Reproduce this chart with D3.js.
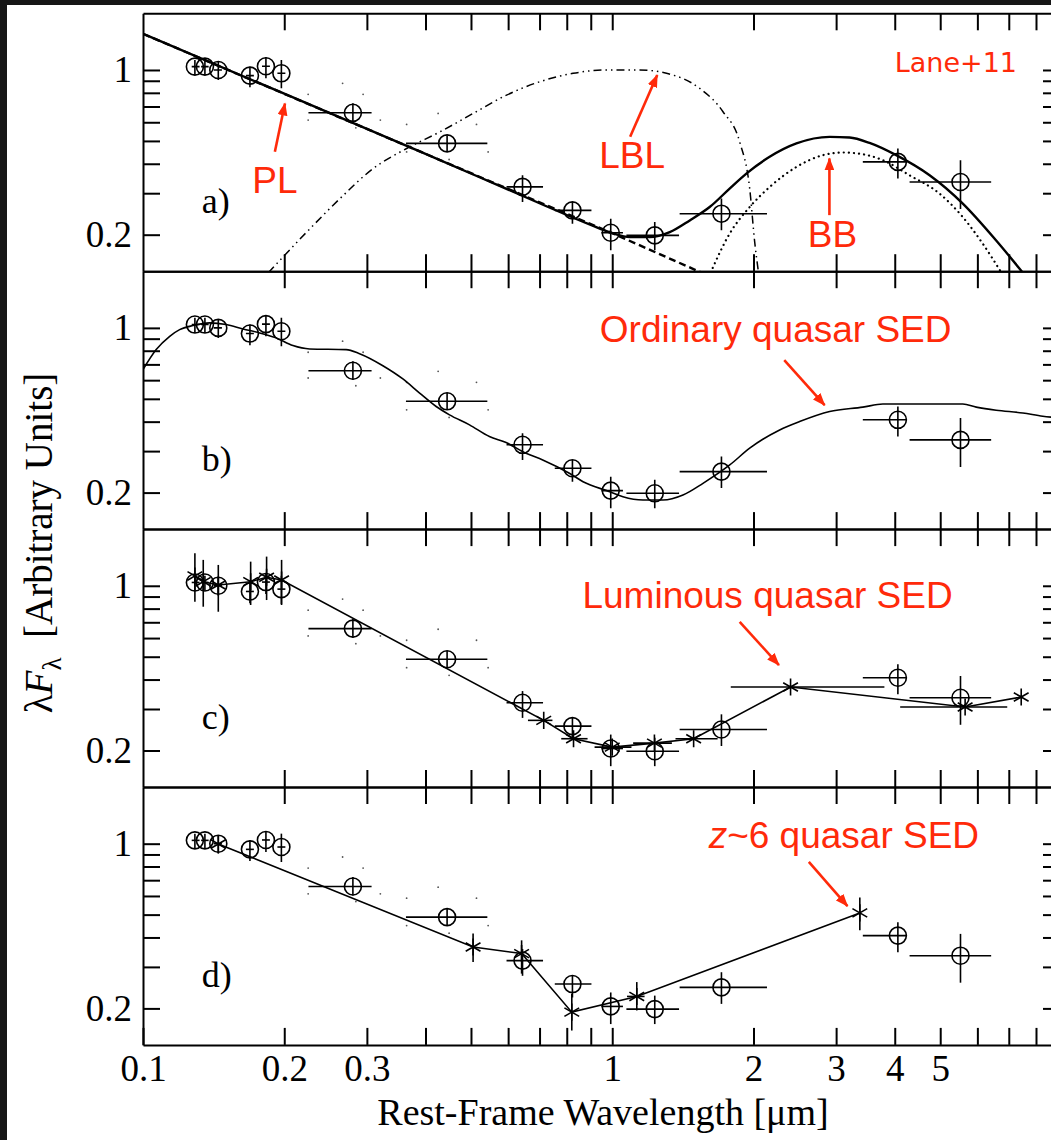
<!DOCTYPE html>
<html>
<head>
<meta charset="utf-8">
<script src="https://cdn.jsdelivr.net/npm/d3@7"></script>
<style>
  body { margin: 0; background: #161616; }
  svg { display: block; }
</style>
</head>
<body>
<svg id="chart" width="1051" height="1140"></svg>
<script>
// ---- data: observed photometry (rest-frame um, lambda F_lambda) ----
const obsLam    = [0.129, 0.1355, 0.1447, 0.169, 0.1828, 0.1972, 0.2801, 0.4447, 0.6439, 0.8226, 0.9927, 1.232, 1.709, 4.062, 5.523];
const obsFlux   = [1.033, 1.033, 1.0, 0.946, 1.037, 0.968, 0.658, 0.488, 0.319, 0.2537, 0.2039, 0.1986, 0.2456, 0.4073, 0.3347];
const obsLamLo  = [0.127, 0.133, 0.1416, 0.1657, 0.1793, 0.1934, 0.2252, 0.3634, 0.5953, 0.7543, 0.9484, 1.072, 1.392, 3.42, 4.302];
const obsLamHi  = [0.132, 0.138, 0.1473, 0.1723, 0.1864, 0.2011, 0.307, 0.5418, 0.7121, 0.903, 1.054, 1.388, 2.137, 4.233, 6.42];
const obsFluxLo = [0.952, 0.952, 0.907, 0.844, 0.922, 0.836, 0.603, 0.449, 0.275, 0.2225, 0.1716, 0.1716, 0.209, 0.3461, 0.2571];
const obsFluxHi = [1.103, 1.103, 1.085, 1.033, 1.132, 1.103, 0.722, 0.529, 0.3575, 0.2752, 0.2337, 0.2266, 0.2848, 0.4641, 0.4142];
// faint dotted range marks around the two broad points
const dotLam  = [0.2249, 0.2663, 0.2945, 0.3205, 0.2249, 0.2842, 0.3646, 0.4256, 0.5137, 0.5439, 0.3646, 0.4491];
const dotFlux = [0.788, 0.878, 0.788, 0.6128, 0.6128, 0.568, 0.5874, 0.654, 0.5874, 0.4492, 0.4492, 0.4169];

// ---- panel a: PL + BB fit, LBL ----
const plLam   = [0.1, 1.0, 1.55];
const plFlux  = [1.424, 0.203, 0.138];
const totLam  = [0.1, 0.2, 0.4, 0.7, 0.9, 1.0, 1.09, 1.202, 1.326, 1.463, 1.613, 1.779, 1.931, 2.165, 2.469, 2.906, 3.205, 3.535, 4.029, 4.746, 5.586, 6.58, 7.5];
const totFlux = [1.424, 0.793, 0.441, 0.272, 0.22, 0.203, 0.1953, 0.1953, 0.205, 0.230, 0.262, 0.3138, 0.3635, 0.428, 0.4877, 0.520, 0.517, 0.4904, 0.435, 0.3574, 0.271, 0.189, 0.138];
const bbLam   = [1.62, 1.779, 1.963, 2.165, 2.469, 2.812, 3.102, 3.421, 3.774, 4.302, 4.985, 5.586, 6.163, 6.75];
const bbFlux  = [0.138, 0.202, 0.262, 0.3187, 0.3878, 0.435, 0.4466, 0.439, 0.414, 0.3574, 0.2987, 0.2375, 0.183, 0.138];
const lblLam  = [0.185, 0.2232, 0.2628, 0.3094, 0.3646, 0.4293, 0.5052, 0.5953, 0.7008, 0.825, 0.9719, 1.144, 1.305, 1.536, 1.722, 1.869, 1.963, 2.012, 2.05];
const lblFlux = [0.138, 0.205, 0.2845, 0.3818, 0.4644, 0.5463, 0.654, 0.7826, 0.8917, 0.968, 1.0, 1.0, 0.968, 0.836, 0.665, 0.495, 0.314, 0.186, 0.138];

// ---- panel b: ordinary quasar SED ----
const ordLam  = [0.1, 0.1067, 0.114, 0.1197, 0.1278, 0.1387, 0.1504, 0.1633, 0.1773, 0.1922, 0.2087, 0.2265, 0.271, 0.2894, 0.3245, 0.358, 0.3886, 0.4215, 0.45, 0.4964, 0.5473, 0.594, 0.655, 0.711, 0.8103, 0.8666, 0.9878, 1.054, 1.163, 1.283, 1.415, 1.561, 1.78, 1.963, 2.274, 2.508, 2.906, 3.42, 3.774, 5.586, 5.966, 6.58, 7.5, 8.27, 9.0];
const ordFlux = [0.665, 0.809, 0.921, 0.983, 1.023, 1.050, 1.033, 0.990, 0.952, 0.907, 0.841, 0.814, 0.809, 0.777, 0.691, 0.607, 0.529, 0.4638, 0.4276, 0.3878, 0.3457, 0.326, 0.2938, 0.2752, 0.2415, 0.2225, 0.2017, 0.192, 0.186, 0.186, 0.1953, 0.219, 0.262, 0.3087, 0.369, 0.4005, 0.4417, 0.461, 0.475, 0.475, 0.461, 0.447, 0.4355, 0.4214, 0.415];

// ---- panel c: luminous quasar SED (stars) ----
const lumLam    = [0.129, 0.1344, 0.1447, 0.1696, 0.1834, 0.1974, 0.7145, 0.827, 1.0, 1.23, 1.491, 2.399, 5.65, 7.44];
const lumFlux   = [1.101, 1.041, 1.008, 1.041, 1.087, 1.058, 0.2685, 0.2244, 0.2067, 0.215, 0.2244, 0.372, 0.3058, 0.3373];
const lumFluxLo = [0.856, 0.815, 0.776, 0.829, 0.87, 0.829, null, null, null, null, null, null, null, null];
const lumFluxHi = [1.375, 1.288, 1.226, 1.266, 1.33, 1.288, null, null, null, null, null, null, null, null];
const lumLamLo  = [null, null, null, null, null, null, 0.6613, 0.7786, 0.917, 1.108, 1.364, 1.789, 4.108, null];
const lumLamHi  = [null, null, null, null, null, null, 0.7457, 0.886, 1.099, 1.34, 1.677, 3.802, 6.947, null];

// ---- panel d: z~6 quasar SED (stars) ----
const z6Lam    = [0.1447, 0.5052, 0.641, 0.82, 1.128, 3.37];
const z6Flux   = [0.997, 0.3644, 0.3417, 0.1928, 0.2248, 0.5085];
const z6FluxLo = [null, 0.3147, 0.2809, 0.1611, 0.196, 0.4293];
const z6FluxHi = [null, 0.4156, 0.3889, 0.2309, 0.2587, 0.5913];
const z6LamLo  = [null, null, null, null, 1.075, null];
const z6LamHi  = [null, null, null, null, 1.172, null];

// ---- axes ----
const xDomain = [0.1, 9];
const yDomain = [0.14, 1.74];
const xTicks  = [0.1, 0.2, 0.3, 0.4, 0.5, 0.6, 0.7, 0.8, 0.9, 1, 2, 3, 4, 5, 6, 7, 8];
const xLabels = [0.1, 0.2, 0.3, 1, 2, 3, 4, 5];
const yTicks  = [0.2, 0.3, 0.4, 0.5, 0.6, 0.7, 0.8, 0.9, 1];
const yLabels = [0.2, 1];

// ---- layout ----
const svg = d3.select("#chart");
const W = 1051, H = 1140;
const left = 143, right = 1060, top0 = 13.3, panelH = 257.9, tick = 17;
const serif = "'Liberation Serif', 'Times New Roman', serif";
const sans = "'Liberation Sans', Arial, sans-serif";
const red = "#ff2a0a";

svg.append("rect").attr("width", W).attr("height", H).attr("fill", "#161616");
svg.append("rect").attr("x", 7).attr("y", 5).attr("width", W - 7).attr("height", H - 5).attr("fill", "#fff");

const defs = svg.append("defs");
defs.append("marker").attr("id", "arr")
  .attr("viewBox", "0 -5 13 10").attr("refX", 12).attr("refY", 0)
  .attr("markerWidth", 13).attr("markerHeight", 10)
  .attr("markerUnits", "userSpaceOnUse").attr("orient", "auto")
  .append("path").attr("d", "M0,-5L13,0L0,5Z").attr("fill", red);

const x = d3.scaleLog().domain(xDomain).range([left, right]);
const fmt = d3.format("~g");

const zip = (a, b) => a.map((v, i) => [v, b[i]]);

function makePanel(i) {
  const top = top0 + i * panelH;
  const y = d3.scaleLog().domain(yDomain).range([top + panelH, top]);
  defs.append("clipPath").attr("id", "clip" + i)
    .append("rect").attr("x", left).attr("y", top).attr("width", right - left).attr("height", panelH);
  const g = svg.append("g").attr("clip-path", `url(#clip${i})`);
  return { i, top, y, g };
}

function line(p, lam, flux, opts = {}) {
  const gen = d3.line().x(d => x(d[0])).y(d => p.y(d[1])).curve(opts.curve || d3.curveLinear);
  p.g.append("path").datum(zip(lam, flux))
    .attr("fill", "none").attr("stroke", "#000")
    .attr("stroke-width", opts.width || 1.6)
    .attr("stroke-dasharray", opts.dash || null)
    .attr("stroke-linecap", opts.cap || "butt")
    .attr("d", gen);
}

function errBars(p, lam, flux, lamLo, lamHi, fLo, fHi) {
  lam.forEach((l, k) => {
    if (lamLo && lamLo[k] != null)
      p.g.append("line").attr("x1", x(lamLo[k])).attr("x2", x(lamHi[k]))
        .attr("y1", p.y(flux[k])).attr("y2", p.y(flux[k]))
        .attr("stroke", "#000").attr("stroke-width", 1.6);
    if (fLo && fLo[k] != null)
      p.g.append("line").attr("x1", x(l)).attr("x2", x(l))
        .attr("y1", p.y(fLo[k])).attr("y2", p.y(fHi[k]))
        .attr("stroke", "#000").attr("stroke-width", 1.6);
  });
}

function observed(p) {
  p.g.selectAll(null).data(zip(dotLam, dotFlux)).enter().append("circle")
    .attr("cx", d => x(d[0])).attr("cy", d => p.y(d[1])).attr("r", 0.9).attr("fill", "#555");
  errBars(p, obsLam, obsFlux, obsLamLo, obsLamHi, obsFluxLo, obsFluxHi);
  p.g.selectAll(null).data(zip(obsLam, obsFlux)).enter().append("circle")
    .attr("cx", d => x(d[0])).attr("cy", d => p.y(d[1])).attr("r", 8.5)
    .attr("fill", "none").attr("stroke", "#000").attr("stroke-width", 1.6);
}

function stars(p, lam, flux) {
  const sym = d3.symbol(d3.symbolAsterisk, 205);
  p.g.selectAll(null).data(zip(lam, flux)).enter().append("path")
    .attr("transform", d => `translate(${x(d[0])},${p.y(d[1])})`)
    .attr("d", sym).attr("fill", "none").attr("stroke", "#000").attr("stroke-width", 1.6);
}

function axes(p, withLabels) {
  const bottom = p.top + panelH;
  const style = a => {
    a.selectAll("path, line").attr("stroke", "#000").attr("stroke-width", 2);
    a.selectAll("text").attr("fill", "#000").attr("font-family", serif).attr("font-size", 37);
  };
  svg.append("g").attr("transform", `translate(${left},0)`)
    .call(d3.axisLeft(p.y).tickValues(yTicks).tickSize(-tick).tickSizeOuter(0).tickPadding(11)
      .tickFormat(d => yLabels.includes(d) ? fmt(d) : ""))
    .call(style);
  svg.append("g").attr("transform", `translate(${right},0)`)
    .call(d3.axisRight(p.y).tickValues(yTicks).tickSize(-tick).tickSizeOuter(0).tickFormat(""))
    .call(style);
  svg.append("g").attr("transform", `translate(0,${p.top})`)
    .call(d3.axisTop(x).tickValues(xTicks.slice(1)).tickSize(-tick).tickSizeOuter(0).tickFormat(""))
    .call(style);
  const bx = svg.append("g").attr("transform", `translate(0,${bottom})`)
    .call(d3.axisBottom(x).tickValues(withLabels ? xTicks : xTicks.slice(1)).tickSize(-tick).tickSizeOuter(0).tickPadding(10)
      .tickFormat(d => withLabels && xLabels.includes(d) ? fmt(d) : ""))
    .call(style);
  bx.selectAll("text").filter(function () { return this.textContent === ""; }).remove();
  svg.selectAll("g.tick text").filter(function () { return this.textContent === ""; }).remove();
}

function panelLabel(p, txt) {
  svg.append("text").attr("x", x(0.1334)).attr("y", p.y(0.2474))
    .attr("font-family", serif).attr("font-size", 36).attr("fill", "#000").text(txt);
}

function note(p, txt, lam, flux, anchor, arrow) {
  const t = svg.append("text").attr("x", x(lam)).attr("y", p.y(flux))
    .attr("text-anchor", anchor).attr("font-family", sans).attr("font-size", 37).attr("fill", red);
  if (typeof txt === "string") t.text(txt);
  else txt(t);
  if (arrow)
    svg.append("line")
      .attr("x1", x(arrow[0])).attr("y1", p.y(arrow[1]))
      .attr("x2", x(arrow[2])).attr("y2", p.y(arrow[3]))
      .attr("stroke", red).attr("stroke-width", 2.6).attr("marker-end", "url(#arr)");
}

// ---- panel a ----
const pa = makePanel(0);
line(pa, lblLam, lblFlux, { curve: d3.curveMonotoneX, width: 1.5, dash: "8,4,1.5,4,1.5,4" });
line(pa, bbLam, bbFlux, { curve: d3.curveMonotoneX, width: 2.2, dash: "0.1,5", cap: "round" });
line(pa, plLam, plFlux, { width: 2.4, dash: "7,4" });
observed(pa);
line(pa, totLam, totFlux, { curve: d3.curveMonotoneX, width: 2.4 });

// ---- panel b ----
const pb = makePanel(1);
observed(pb);
line(pb, ordLam, ordFlux, { curve: d3.curveMonotoneX, width: 1.6 });

// ---- panel c ----
const pc = makePanel(2);
observed(pc);
errBars(pc, lumLam, lumFlux, lumLamLo, lumLamHi, lumFluxLo, lumFluxHi);
line(pc, lumLam, lumFlux, { width: 1.6 });
stars(pc, lumLam, lumFlux);

// ---- panel d ----
const pd = makePanel(3);
observed(pd);
errBars(pd, z6Lam, z6Flux, z6LamLo, z6LamHi, z6FluxLo, z6FluxHi);
line(pd, z6Lam, z6Flux, { width: 1.6 });
stars(pd, z6Lam, z6Flux);

// ---- frames + ticks ----
[pa, pb, pc, pd].forEach((p, k) => axes(p, k === 3));
panelLabel(pa, "a)"); panelLabel(pb, "b)"); panelLabel(pc, "c)"); panelLabel(pd, "d)");

// ---- annotations (positions in data units) ----
note(pa, "PL", 0.191, 0.301, "middle", [0.191, 0.4495, 0.2007, 0.7215]);
note(pa, "LBL", 1.103, 0.3823, "middle", [1.092, 0.5204, 1.247, 0.9514]);
note(pa, "BB", 2.947, 0.1777, "middle", [2.903, 0.2421, 2.903, 0.4215]);
svg.append("text").attr("x", x(4.0)).attr("y", pa.y(0.985))
  .attr("font-family", "'Comic Sans MS', 'DejaVu Sans', sans-serif")
  .attr("font-size", 27).attr("fill", red).text("Lane+11");
note(pb, "Ordinary quasar SED", 0.941, 0.873, "start", [2.326, 0.730, 2.836, 0.470]);
note(pc, "Luminous quasar SED", 0.864, 0.802, "start", [1.869, 0.7035, 2.266, 0.4606]);
note(pd, t => {
  t.append("tspan").attr("font-style", "italic").text("z");
  t.append("tspan").text("~6 quasar SED");
}, 1.605, 0.955, "start", [2.624, 0.838, 3.172, 0.5434]);

// ---- axis titles ----
svg.append("text").attr("x", 603).attr("y", 1125).attr("text-anchor", "middle")
  .attr("font-family", serif).attr("font-size", 38).attr("fill", "#000")
  .text("Rest-Frame Wavelength [\u03bcm]");

const yt = svg.append("text").attr("transform", "translate(52,543) rotate(-90)")
  .attr("text-anchor", "middle").attr("font-family", serif).attr("font-size", 39).attr("fill", "#000");
yt.append("tspan").text("\u03bb");
yt.append("tspan").attr("font-style", "italic").text("F");
yt.append("tspan").attr("font-size", 27).attr("dy", 9).text("\u03bb");
yt.append("tspan").attr("dy", -9).text("\u00a0 [Arbitrary Units]");
</script>
</body>
</html>
